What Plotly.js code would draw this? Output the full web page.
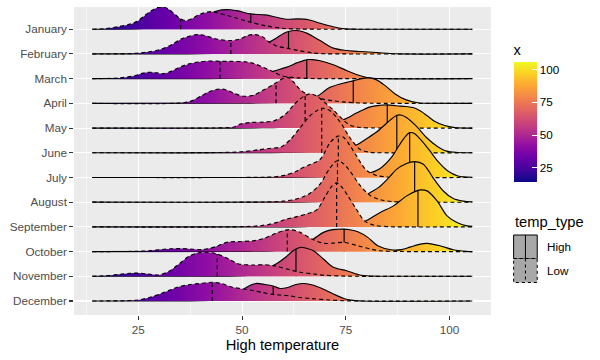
<!DOCTYPE html>
<html>
<head>
<meta charset="utf-8">
<script src="https://cdn.plot.ly/plotly-3.0.1.min.js"></script>
<style>html,body{margin:0;padding:0;background:#fff}#chart{width:600px;height:360px}</style>
</head>
<body>
<div id="chart"></div>
<script>
// ---------- DATA ----------
const months = ["January","February","March","April","May","June","July","August","September","October","November","December"];
const tempTypes = ["High","Low"];
const xTicks = [25, 50, 75, 100];
const colorTicks = [25, 50, 75, 100];
const tempMin = 13.9, tempMax = 105.5;

// median (quantile line) of each density, per month
const highMedian = [52.1, 61.2, 65.6, 76.8, 85.0, 87.3, 90.4, 91.6, 92.4, 74.6, 63.0, 57.5];
const lowMedian  = [35.2, 47.3, 44.7, 58.2, 65.2, 69.2, 73.2, 73.0, 72.8, 60.9, 44.0, 42.8];

// density ridge heights [temperature, height] (height in px of the reference, 24.7 px = one row)
const highDensity = [
 [[13.9,0],[25,0.5],[30,2],[35,5],[38,8],[41,13],[43.5,17.6],[45.1,19.3],[47.2,19.5],[49.1,18.3],[52.1,15.3],[55.6,14.3],[58.3,12],[60.6,10],[63.5,10.3],[66,9.5],[68,7],[70.5,4],[73,1.5],[75,0.3],[78,0],[105.5,0]],
 [[13.9,0],[40,0.3],[45,1],[50,3],[53,6],[55,9],[56.8,12.4],[58.5,16.5],[60,20.5],[61.2,22.4],[62.8,23.4],[64.5,22.5],[65.6,20.8],[68.8,13.4],[72,5.8],[75.3,3.4],[78.5,2.4],[82.5,1.4],[85.7,0.4],[88,0],[105.5,0]],
 [[13.9,0],[45,0.3],[50,1],[54,3],[56,5],[57.7,7.5],[60,10.5],[61.7,12.9],[63,15.5],[64.5,17.5],[65.6,18.9],[67,19],[68.8,17.9],[72,13.9],[75.3,7.9],[78.5,2.9],[81,0.6],[84,0],[105.5,0]],
 [[13.9,0],[50,0.2],[55,0.6],[60,1.5],[64,3.5],[66.3,5],[68,6.8],[71.2,16],[75.2,21],[76.8,22.5],[78.5,24.5],[80.5,25.4],[82.3,23.7],[84.5,17.7],[86.9,9.4],[89.4,3.7],[92.7,0.4],[95,0],[105.5,0]],
 [[13.9,0],[55,0.3],[60,1],[65,2.5],[70,5],[73,7],[74.5,8.5],[77.7,15.2],[80.9,21.2],[83.3,22.8],[85,23.2],[87.2,22.3],[89.5,21.5],[91.2,20.5],[93,17],[94.7,12],[96.5,6.5],[98.8,2.5],[101.3,0.5],[104,0],[105.5,0]],
 [[13.9,0],[60,0.3],[65,1],[70,2.5],[75,5],[77.7,8],[80,14],[82.5,21],[84.7,29],[86.1,34],[87.3,37.5],[88.5,37.5],[89.7,35],[92,26.6],[94.5,15],[97,6.6],[99.3,1.6],[102,0.3],[105.5,0]],
 [[13.9,0],[65,0.3],[70,1],[75,2],[78,3],[80.8,4.5],[83.3,9],[86,20],[88,33],[89.4,41],[90.4,44.8],[91.5,44],[93,38],[95,28],[97.2,16],[99.6,6.4],[102,1.5],[105.5,0.2]],
 [[13.9,0],[65,0.3],[70,1],[75,2],[78.4,4],[81,10],[83,15],[85.7,26],[87.3,33],[89.5,38.5],[91.6,40.6],[93.7,38],[96,24.6],[98.5,11.2],[100.9,3.6],[103.3,1],[105.5,0.3]],
 [[13.9,0],[65,0.3],[70,1],[75,2],[77.5,3],[79.5,5.4],[83.3,14.4],[86.5,21],[89.7,31],[92.4,36.5],[93,37],[94.6,36],[97,26],[99.4,11],[101.8,4.4],[104.2,1],[105.5,0.5]],
 [[13.9,0],[50,0.2],[55,0.5],[60,2],[63,5],[65.5,9],[67.2,12.5],[69.6,19.2],[71.2,21.5],[73,22.3],[74.6,22.5],[76,21.8],[77.9,19.8],[80.3,14.2],[82.7,5.8],[85.9,1.8],[88.5,2],[90.5,4.5],[93,7.5],[94.6,8.2],[97.7,5.8],[100.9,1.8],[104,0.2],[105.5,0]],
 [[13.9,0],[45,0.2],[50,0.5],[54,2],[56.5,6],[57.5,10.6],[58.5,13],[60.5,19],[62,24.5],[63,27.3],[64.3,29],[65.5,28],[67.2,25.6],[69.6,17.3],[72,9],[75.2,5.6],[78.4,1.3],[81,0.2],[84,0],[105.5,0]],
 [[13.9,0],[40,0.3],[44,1],[47,3],[49.5,8],[51,13.5],[53.3,17.5],[55.5,16.5],[57.5,15],[59.2,12.5],[61,13.5],[63,16.5],[65,17.5],[67,16],[69.5,12],[72,7],[74.5,2.5],[76.3,0.8],[79,0],[105.5,0]]
];
const lowDensity = [
 [[13.9,0],[17,0.6],[20.2,2.6],[22.6,4.6],[24.6,7.6],[26.2,12.6],[27.8,17.6],[29.4,21.3],[30.7,22.3],[32.2,20.3],[33.7,15.3],[35.1,10.6],[36.3,8.6],[37.9,10.6],[39.5,14.3],[41.1,16.6],[42.5,17.6],[43.9,16.6],[45.9,14.3],[48.3,11.6],[51.5,7.6],[55.6,3.6],[59.7,1],[64,0.2],[70,0],[105.5,0]],
 [[13.9,0],[24.2,0.5],[28,2.4],[30.5,4.8],[32.9,9],[35.3,14.8],[37,17.4],[39,19.3],[41,18.5],[43,15.8],[45,14.1],[47.3,13.4],[49.5,15],[51.5,18.6],[53,19.4],[55,17],[56.5,12],[58.3,8],[60.5,6],[63.5,3.5],[67,1],[70,0.2],[75,0],[105.5,0]],
 [[13.9,0],[20.4,0.7],[24.2,3],[26.2,5.7],[27.8,6.3],[29.5,5.7],[31,5],[33,7.5],[35,11.5],[37,14.5],[39.5,16.6],[42,17.6],[44.7,17.3],[47.5,17.2],[50.7,16.9],[53,14.9],[55.5,10.6],[57.5,7],[59.5,3],[63.5,0.7],[67,0.1],[70,0],[105.5,0]],
 [[13.9,0],[35,0.3],[37.5,2],[40,7],[42.3,12],[44.7,14.4],[46.5,13],[48.3,9.7],[50.7,7],[53,8.5],[55,13],[56.8,17],[58.2,20.5],[59.7,24.5],[61,26],[62.5,21],[63.7,15],[65.2,10],[66.6,7.5],[69,4.5],[72,2.5],[75,1.2],[79,0.3],[83,0],[105.5,0]],
 [[13.9,0],[45,0.2],[48,1],[49.6,4],[52,5.5],[55.5,6],[57.5,7],[59.2,10],[61,16],[62.2,22],[63.7,28],[65.2,32.5],[66.4,34.2],[68,32],[69.5,27],[71.9,18.5],[74.3,8.5],[76,3],[78.4,0.6],[82,0.1],[85,0],[105.5,0]],
 [[13.9,0],[45,0.3],[50,1],[54,3],[57,4.5],[59.5,6],[61.6,13],[64,25],[66.4,37],[68,42],[69.2,44.5],[71.2,42],[73.6,31],[76,15],[78.4,3.5],[80.8,0.5],[84,0],[105.5,0]],
 [[13.9,0],[55,0.2],[58,0.7],[60.5,2.5],[63,6],[64,8.5],[66.4,13],[68.8,18],[71.2,34.8],[72.5,40],[73.2,41.4],[74.5,40],[76,32],[77.6,21.4],[80,7],[82.5,2],[85,0.5],[88,0],[105.5,0]],
 [[13.9,0],[55,0.2],[60,1],[63,3],[65,6],[66.4,9],[68.8,18],[71,33],[72.8,41.2],[74.3,39],[76,31],[78.4,17],[80.8,7],[83.3,2.5],[86,0.7],[90,0],[105.5,0]],
 [[13.9,0],[50,0.2],[55,1.5],[58,4],[60.5,7.5],[63,10],[66,13.5],[68,17],[70,30],[71.5,40],[72.8,44],[74,40],[75.5,31],[77.5,18],[79.5,6],[82,1.5],[85,0.3],[88,0],[105.5,0]],
 [[13.9,0],[25,0.3],[28,1],[30.5,2],[33,2.8],[35,3],[37.5,2.5],[40,2],[42,3],[44,5.5],[46.5,9.5],[49.5,10],[53,11],[55.5,13.5],[58,18],[60.5,21.5],[62,21.8],[64,19.2],[67.2,11.8],[69.7,8.2],[72,8.5],[74.6,9.2],[77.9,5.8],[81,2.5],[83.3,0.8],[87,0.2],[90,0],[105.5,0]],
 [[13.9,0],[18,0.8],[20.5,2],[23,3],[25,3.2],[27.5,2.2],[30,1.3],[32.4,5],[34.8,12.3],[37.2,20],[39.5,23.5],[41.5,24],[44,22.3],[46.8,17.3],[49.2,12.3],[52.4,11.3],[55.6,11.5],[57.5,10.6],[59.2,9],[61.6,6.5],[64,4],[67.2,2.3],[70,1],[74,0.3],[78,0],[105.5,0]],
 [[13.9,0],[22,0.3],[25,1],[27.7,3.5],[30.5,7.5],[33,11.5],[35,14.5],[37.5,16.5],[40,17.5],[42.8,18.7],[45,17.5],[47.5,14],[49.5,12.5],[52.5,10.5],[55,8.5],[57.5,6.5],[59.2,6],[61.6,5],[64,3.5],[67,2.3],[71,1],[75,0.2],[78,0],[105.5,0]]
];

// ---------- STYLE ----------
const rowPx = 24.7;               // reference pixels per row (height scale)
const plasma = [[0,'#0D0887'],[0.1,'#41049D'],[0.2,'#6A00A8'],[0.3,'#8F0DA4'],[0.4,'#B12A90'],[0.5,'#CC4778'],[0.6,'#E16462'],[0.7,'#F2844B'],[0.8,'#FCA636'],[0.9,'#FCCE25'],[1,'#F0F921']];
const FONT = 'Liberation Sans, Arial, Helvetica, sans-serif';
const dashed = '4px,3px';
const LW = 1.15;

const W = 600, H = 360, M = {l:74, r:109.3, t:7, b:45};
const pw = W - M.l - M.r, ph = H - M.t - M.b;
const px2x = p => (p - M.l) / pw;
const py2y = p => 1 - (p - M.t) / ph;

function heightAt(pts, x) {
  for (let i = 1; i < pts.length; i++) {
    if (x <= pts[i][0]) {
      const [x0,h0] = pts[i-1], [x1,h1] = pts[i];
      return h0 + (h1-h0) * (x - x0) / (x1 - x0);
    }
  }
  return 0;
}

const traces = [];
months.forEach((m, i) => {
  const base = months.length - i;   // January at top
  [[highDensity[i], highMedian[i], 'solid'], [lowDensity[i], lowMedian[i], dashed]].forEach(([pts, med, dash]) => {
    traces.push({type:'scatter', mode:'lines', x:[tempMin, tempMax], y:[base, base],
      line:{width:0, color:'rgba(0,0,0,0)'}, hoverinfo:'skip', showlegend:false});
    traces.push({type:'scatter', mode:'lines', x: pts.map(p=>p[0]), y: pts.map(p=>base + p[1]/rowPx),
      line:{color:'#000', width:LW, dash:dash, shape:'spline', smoothing:0.9},
      fill:'tonexty', fillgradient:{type:'horizontal', start:tempMin, stop:tempMax, colorscale:plasma},
      hoverinfo:'skip', showlegend:false});
    traces.push({type:'scatter', mode:'lines', x:[med, med], y:[base, base + heightAt(pts, med)/rowPx],
      line:{color:'#000', width:LW, dash:dash}, hoverinfo:'skip', showlegend:false});
  });
});

// colour bar (scale "x")
const barTop = 62.3, barBot = 182.3, barX0 = 513.3, barX1 = 536.7;
traces.push({type:'scatter', mode:'markers', x:[50,60], y:[-5,-5], hoverinfo:'skip', showlegend:false,
  marker:{size:1, color:[tempMin, tempMax], cmin:tempMin, cmax:tempMax, colorscale:plasma, showscale:true,
    colorbar:{x:px2x(barX0), xanchor:'left', xpad:0, y:py2y(barTop - 21), yanchor:'top', ypad:0,
      thickness:barX1-barX0, thicknessmode:'pixels', len:barBot-barTop+21, lenmode:'pixels', outlinewidth:0,
      tickvals:colorTicks, ticks:'inside', ticklen:4.5, tickcolor:'#fff', tickwidth:1,
      tickfont:{family:FONT, size:11.7, color:'#000'},
      title:{text:'x', side:'top', font:{family:FONT, size:14.7, color:'#000'}}}}});

const shapes = [], annotations = [];
// left-edge white ticks of the colour bar
colorTicks.forEach(v => {
  const py = barBot - (v - tempMin) / (tempMax - tempMin) * (barBot - barTop);
  shapes.push({type:'line', xref:'paper', yref:'paper', x0:px2x(barX0), x1:px2x(barX0+4.5), y0:py2y(py), y1:py2y(py),
    line:{color:'#fff', width:1}, layer:'above'});
});

// temp_type legend (keys)
const keyX0 = 513.3, keyX1 = 536.9;
const keyY = [235, 258.5, 282.5];
tempTypes.forEach((t, k) => {
  const dash = k === 0 ? 'solid' : 'dot';
  shapes.push({type:'rect', xref:'paper', yref:'paper', x0:px2x(keyX0), x1:px2x(keyX1), y0:py2y(keyY[k]), y1:py2y(keyY[k+1]),
    fillcolor:'#A8A8A8', line:{color:'#000', width:1, dash:dash}, layer:'above'});
  shapes.push({type:'line', xref:'paper', yref:'paper', x0:px2x((keyX0+keyX1)/2), x1:px2x((keyX0+keyX1)/2), y0:py2y(keyY[k]), y1:py2y(keyY[k+1]),
    line:{color:'#000', width:1, dash:dash}, layer:'above'});
  annotations.push({xref:'paper', yref:'paper', x:px2x(545), y:py2y((keyY[k]+keyY[k+1])/2), xanchor:'left', yanchor:'middle',
    text:t, showarrow:false, font:{family:FONT, size:11.7, color:'#000'}});
});
annotations.push({xref:'paper', yref:'paper', x:px2x(512.5), y:py2y(222), xanchor:'left', yanchor:'middle',
  text:'temp_type', showarrow:false, font:{family:FONT, size:14.7, color:'#000'}});

const layout = {
  width:W, height:H, margin:M, paper_bgcolor:'#fff', plot_bgcolor:'#EBEBEB',
  font:{family:FONT}, showlegend:false,
  xaxis:{range:[9.5, 110], tickvals:xTicks, ticks:'outside', ticklen:3.7, tickwidth:1.07, tickcolor:'#333333',
    tickfont:{family:FONT, size:11.7, color:'#4D4D4D'}, showgrid:true, gridcolor:'#fff', gridwidth:1.07,
    minor:{tickvals:[12.5,37.5,62.5,87.5], showgrid:true, gridcolor:'#fff', gridwidth:0.55, ticks:''},
    zeroline:false, showline:false, fixedrange:true,
    title:{text:'High temperature', standoff:4, font:{family:FONT, size:14.7, color:'#000'}}},
  yaxis:{range:[0.433, 12.9], tickvals:months.map((m,i)=>months.length-i), ticktext:months,
    ticks:'outside', ticklen:3.7, tickwidth:1.07, tickcolor:'#333333',
    tickfont:{family:FONT, size:11.7, color:'#4D4D4D'}, showgrid:true, gridcolor:'#fff', gridwidth:1.07,
    zeroline:false, showline:false, fixedrange:true},
  shapes:shapes, annotations:annotations
};

Plotly.newPlot('chart', traces, layout, {staticPlot:true});
</script>
</body>
</html>
